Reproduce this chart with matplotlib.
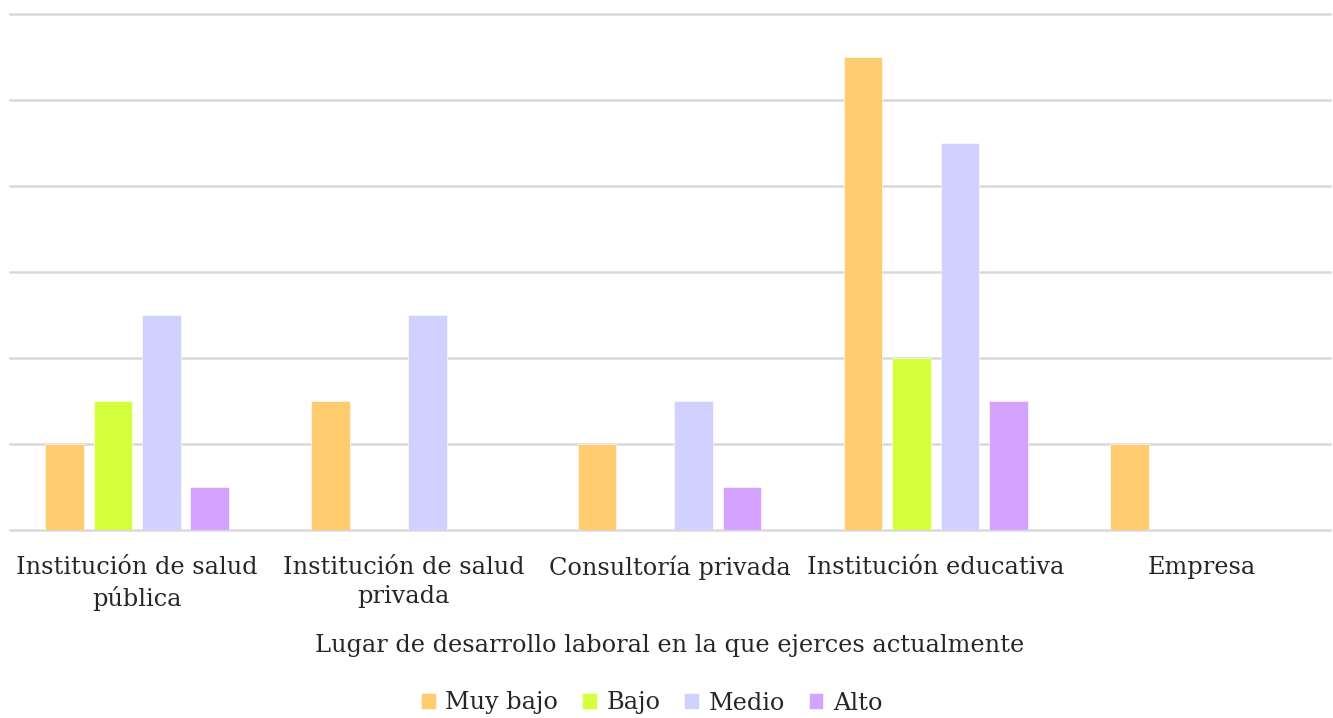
import matplotlib.pyplot as plt
import numpy as np

plt.rcParams['font.family'] = ['DejaVu Serif']

categories = ['Institución de salud\npública', 'Institución de salud\nprivada',
              'Consultoría privada', 'Institución educativa', 'Empresa']
series = ['Muy bajo', 'Bajo', 'Medio', 'Alto']
muy_bajo = [2, 3, 2, 11, 2]
bajo = [3, 0, 0, 4, 0]
medio = [5, 5, 3, 9, 0]
alto = [1, 0, 1, 3, 0]
colors = ['#FFCD70', '#D4FF3C', '#D1D1FF', '#D3A3FF']

fig = plt.figure(figsize=(13.33, 7.18), dpi=100)
ax = fig.add_axes([4 / 1333, 0.262, 1331 / 1333, 0.7185])

x = np.arange(len(categories))
width = 0.145
step = 0.182
for i, (name, vals) in enumerate(zip(series, [muy_bajo, bajo, medio, alto])):
    ax.bar(x + (i - 1.5) * step, vals, width, color=colors[i], label=name,
           edgecolor='#FFFFFF', linewidth=0.4, zorder=3)

ax.set_xlim(-0.5, len(categories) - 0.5)
ax.set_ylim(0, 12)
for yv in np.arange(0, 13, 2):
    ax.axhline(yv, xmin=6 / 1331, xmax=1326 / 1331, color='#D9D9D9',
               linewidth=1.8, zorder=1, clip_on=False)
ax.set_yticks([])
ax.tick_params(axis='x', bottom=False, pad=15)
ax.set_xticks(x)
ax.set_xticklabels(categories, fontsize=17.3, color='#262626', linespacing=1.35)
for s in ax.spines.values():
    s.set_visible(False)

ax.set_xlabel('Lugar de desarrollo laboral en la que ejerces actualmente',
              fontsize=17.3, color='#262626', labelpad=17)

fig.legend(loc='center', bbox_to_anchor=(0.489, 15 / 718), ncol=4, frameon=False,
           fontsize=17.3, handlelength=0.6, handleheight=0.6, handletextpad=0.4,
           columnspacing=1.0, labelcolor='#262626')

fig.savefig('out.png', dpi=100)
